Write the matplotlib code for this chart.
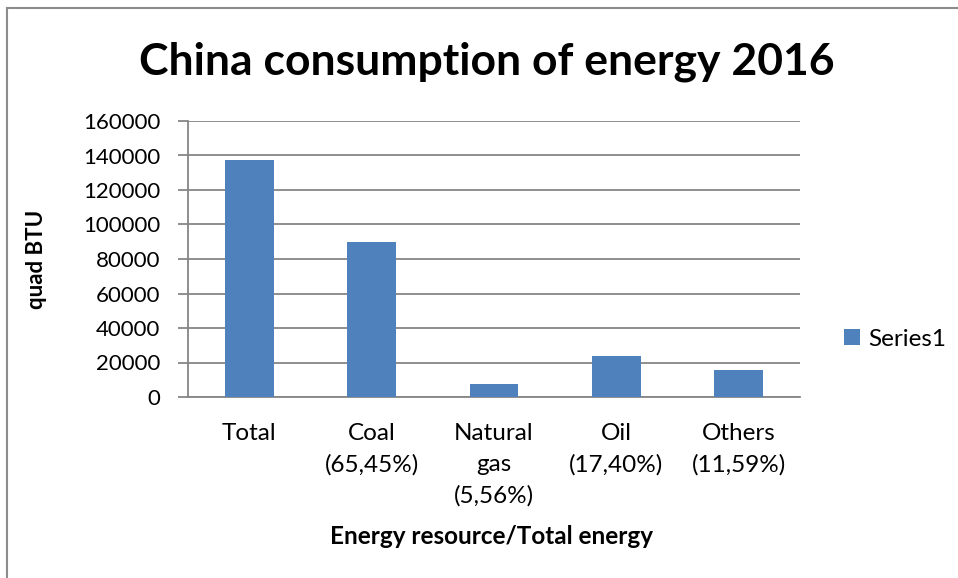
import matplotlib
matplotlib.use("Agg")
import matplotlib.pyplot as plt
from matplotlib.lines import Line2D

plt.rcParams['font.family'] = ['Lato', 'DejaVu Sans']

# Energy consumption, quad BTU
categories = ["Total", "Coal\n(65,45%)", "Natural\ngas\n(5,56%)", "Oil\n(17,40%)", "Others\n(11,59%)"]
values = [137500, 90000, 7645, 23925, 15936]
yticks = [0, 20000, 40000, 60000, 80000, 100000, 120000, 140000, 160000]
series_name = "Series1"

bar_color = "#4F81BD"
grid_color = "#868686"

fig = plt.figure(figsize=(9.58, 5.78), dpi=100)
fig.patch.set_facecolor("white")

# outer chart frame (left and top edges)
fig.add_artist(Line2D([7/958, 7/958], [0, 1 - 8/578], transform=fig.transFigure,
                      color="#8c8c8c", lw=1.5))
fig.add_artist(Line2D([7/958, 1], [1 - 8/578, 1 - 8/578], transform=fig.transFigure,
                      color="#8c8c8c", lw=1.5))

ax = fig.add_axes([188/958, (578-397)/578, (800-188)/958, (397-121)/578])
x = range(len(categories))
ax.bar(x, values, width=0.4, color=bar_color, zorder=3, label=series_name)

ax.set_xlim(-0.5, len(categories) - 0.5)
ax.set_ylim(0, 160000)
ax.set_yticks(yticks)
ax.set_yticklabels([str(v) for v in yticks], fontsize=16)
ax.set_xticks(list(x))
ax.set_xticklabels(categories, fontsize=17.5, linespacing=1.58, va="top")

ax.yaxis.grid(True, color=grid_color, lw=1.3, zorder=0)
for s in ("top", "right"):
    ax.spines[s].set_visible(False)
ax.spines["left"].set_color(grid_color)
ax.spines["left"].set_linewidth(1.3)
ax.spines["bottom"].set_color(grid_color)
ax.spines["bottom"].set_linewidth(1.3)
ax.tick_params(axis="y", direction="out", length=7, width=1.3, color=grid_color, pad=13)
ax.tick_params(axis="x", length=0, pad=19)

ax.set_ylabel("quad BTU", fontsize=16, fontweight="bold")
ax.yaxis.set_label_coords(-0.231, 0.5)
fig.text(492/958, 1 - 536/578, "Energy resource/Total energy", fontsize=17.5,
         fontweight="bold", ha="center", va="center")
fig.text(487/958, 1 - 62/578, "China consumption of energy 2016", fontsize=32,
         fontweight="bold", ha="center", va="center")

leg = ax.legend(loc="center left", bbox_to_anchor=(844/958, 1 - 339/578),
                bbox_transform=fig.transFigure, frameon=False, fontsize=17.5,
                borderpad=0, borderaxespad=0,
                handlelength=0.65, handleheight=0.65, handletextpad=0.35)

fig.savefig("out.png", dpi=100, facecolor="white")
